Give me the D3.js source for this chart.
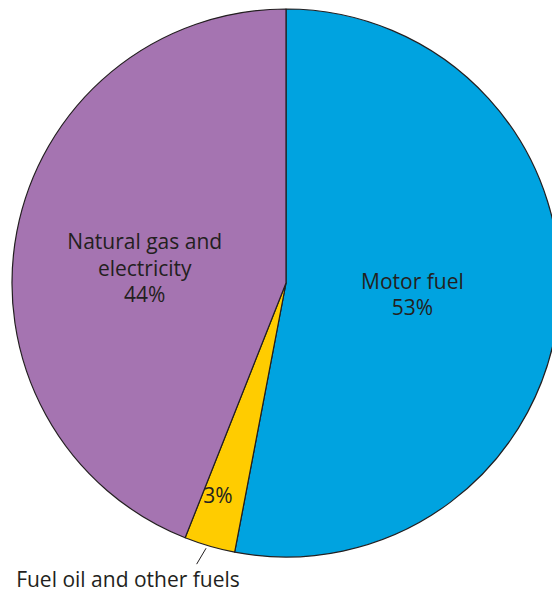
<!DOCTYPE html>
<html>
<head>
<meta charset="utf-8">
<script src="https://cdn.jsdelivr.net/npm/d3@7"></script>
<style>
  body { margin: 0; background: #fff; }
  svg text { font-family: "Open Sans", "Noto Sans", sans-serif; fill: #231f20; }
</style>
</head>
<body>
<svg id="chart" width="552" height="595"></svg>
<script>
// slices clockwise from 12 o'clock
var categories = ["Motor fuel", "Fuel oil and other fuels", "Natural gas and electricity"];
var shares = [53, 3, 44];
var colors = ["#00a3e0", "#ffcc00", "#a574b1"];

var svg = d3.select("#chart");
var cx = 286, cy = 283, r = 274;

var pie = d3.pie().sort(null).value(function(d) { return d; });
var arc = d3.arc().innerRadius(0).outerRadius(r);
var arcs = pie(shares);

var g = svg.append("g").attr("transform", "translate(" + cx + "," + cy + ")");

g.selectAll("path.slice")
  .data(arcs)
  .enter().append("path")
  .attr("class", "slice")
  .attr("d", arc)
  .attr("fill", function(d, i) { return colors[i]; })
  .attr("stroke", "#231f20")
  .attr("stroke-width", 1.2)
  .attr("stroke-linejoin", "round");

// in-slice labels, placed along each slice's mid angle (plus a small nudge)
var labelLines = [
  ["Motor fuel", shares[0] + "%"],
  [shares[1] + "%"],
  ["Natural gas and", "electricity", shares[2] + "%"]
];
var labelRadius = [127, 224, 142];
var labelNudge = [0, 1.5, -5]; // degrees
var lineH = 26.5;
var fs = 21;

arcs.forEach(function(d, i) {
  var a = (d.startAngle + d.endAngle) / 2 + labelNudge[i] * Math.PI / 180;
  var rr = labelRadius[i];
  var x = Math.sin(a) * rr, y = -Math.cos(a) * rr;
  var lines = labelLines[i];
  var t = g.append("text")
    .attr("text-anchor", "middle")
    .attr("font-size", fs);
  lines.forEach(function(s, k) {
    t.append("tspan")
      .attr("x", x)
      .attr("y", y + (k - (lines.length - 1) / 2) * lineH + 7)
      .text(s);
  });
});

// leader for the small slice
var small = arcs[1];
var ma = (small.startAngle + small.endAngle) / 2 + 0.01;
g.append("line")
  .attr("x1", Math.sin(ma) * (r + 3)).attr("y1", -Math.cos(ma) * (r + 3))
  .attr("x2", Math.sin(ma + 0.015) * (r + 21)).attr("y2", -Math.cos(ma + 0.015) * (r + 21))
  .attr("stroke", "#231f20")
  .attr("stroke-width", 1);

svg.append("text")
  .attr("x", 128)
  .attr("y", 587)
  .attr("text-anchor", "middle")
  .attr("font-size", fs)
  .text(categories[1]);
</script>
</body>
</html>
